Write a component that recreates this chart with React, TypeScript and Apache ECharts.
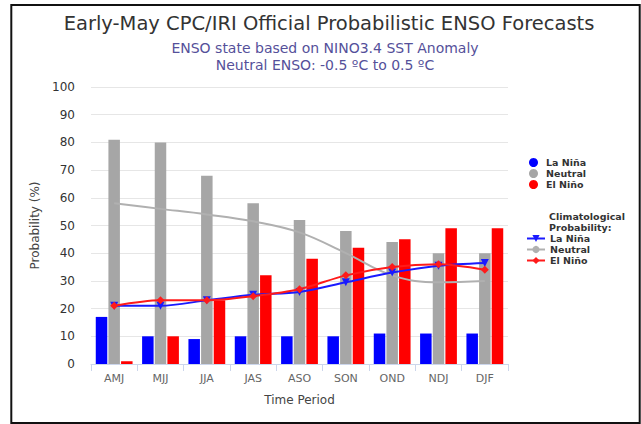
import React, { useEffect, useRef } from "react";
import * as echarts from "echarts";

const categories = ["AMJ", "MJJ", "JJA", "JAS", "ASO", "SON", "OND", "NDJ", "DJF"];
const laNina = [17, 10, 9, 10, 10, 10, 11, 11, 11];
const neutral = [81, 80, 68, 58, 52, 48, 44, 40, 40];
const elNino = [1, 10, 23, 32, 38, 42, 45, 49, 49];
const climLaNina = [21, 21, 23, 25, 26, 29.5, 33, 35.5, 36.5];
const climNeutral = [58, 56, 54, 51.5, 47.5, 40, 32, 29.5, 30];
const climElNino = [21, 23, 23, 24.5, 27, 32, 35, 36, 34];
const yTicks = { min: 0, max: 100, interval: 10 };

const FONT = "DejaVu Sans";

export default function App() {
  const ref = useRef<HTMLDivElement>(null);
  useEffect(() => {
    if (!ref.current) return;
    const chart = echarts.init(ref.current, null, { renderer: "svg" });
    const legendText = { fontFamily: FONT, fontSize: 9.5, fontWeight: "bold", color: "#333", lineHeight: 11 };
    chart.setOption({
      animation: false,
      backgroundColor: "#fff",
      title: [
        {
          text: "Early-May CPC/IRI Official Probabilistic ENSO Forecasts",
          left: 324,
          top: 8,
          textAlign: "center",
          textStyle: { fontFamily: FONT, fontSize: 19.5, fontWeight: "normal", color: "#333" },
        },
        {
          text: "ENSO state based on NINO3.4 SST Anomaly\nNeutral ENSO: -0.5 ºC to 0.5 ºC",
          left: 320,
          top: 34,
          textAlign: "center",
          textStyle: { fontFamily: FONT, fontSize: 14, fontWeight: "normal", color: "#55509a", lineHeight: 17 },
        },
      ],
      graphic: [
        {
          type: "rect",
          silent: true,
          z: -1,
          shape: { x: 11.3, y: 5, width: 628.4, height: 418 },
          style: { fill: "none", stroke: "#111", lineWidth: 2 },
        },
        {
          type: "text",
          left: 549,
          top: 211,
          style: {
            text: "Climatological\nProbability:",
            fontFamily: FONT,
            fontSize: 9.5,
            fontWeight: "bold",
            fill: "#333",
            lineHeight: 11,
          },
        },
      ],
      legend: [
        {
          data: ["La Niña", "Neutral", "El Niño"],
          orient: "vertical",
          left: 529,
          top: 157,
          padding: 0,
          itemWidth: 15,
          itemHeight: 9,
          itemGap: 0,
          icon: "circle",
          textStyle: legendText,
        },
        {
          data: ["Clim La Niña", "Clim Neutral", "Clim El Niño"],
          orient: "vertical",
          left: 526,
          top: 233,
          padding: 0,
          itemWidth: 18,
          itemHeight: 9,
          itemGap: 0,
          formatter: (n: string) => n.replace("Clim ", ""),
          textStyle: legendText,
        },
      ],
      grid: { left: 91, right: 133, top: 87, bottom: 60 },
      xAxis: {
        type: "category",
        data: categories,
        name: "Time Period",
        nameLocation: "middle",
        nameGap: 30,
        nameTextStyle: { fontFamily: FONT, fontSize: 12, color: "#444" },
        axisLine: { lineStyle: { color: "#ccd6eb" } },
        axisTick: { show: true, length: 7, interval: 0, lineStyle: { color: "#ccd6eb" } },
        axisLabel: { fontFamily: FONT, fontSize: 11, color: "#666", margin: 9 },
      },
      yAxis: {
        type: "value",
        min: yTicks.min,
        max: yTicks.max,
        interval: yTicks.interval,
        name: "Probability (%)",
        nameLocation: "middle",
        nameGap: 50,
        nameTextStyle: { fontFamily: FONT, fontSize: 12, color: "#444" },
        axisLine: { show: false },
        axisTick: { show: false },
        axisLabel: { fontFamily: FONT, fontSize: 12, color: "#333", margin: 16 },
        splitLine: { lineStyle: { color: "#e6e6e6" } },
      },
      series: [
        { name: "La Niña", type: "bar", data: laNina, barWidth: 11.5, barGap: "10%", itemStyle: { color: "#0000ff" } },
        { name: "Neutral", type: "bar", data: neutral, barWidth: 11.5, barGap: "10%", itemStyle: { color: "#a6a6a6" } },
        { name: "El Niño", type: "bar", data: elNino, barWidth: 11.5, barGap: "10%", itemStyle: { color: "#ff0000" } },
        {
          name: "Clim La Niña",
          type: "line",
          data: climLaNina,
          smooth: 0.3,
          symbol: "triangle",
          symbolRotate: 180,
          symbolSize: 8,
          lineStyle: { color: "#1a1aff", width: 2 },
          itemStyle: { color: "#1a1aff" },
          z: 5,
        },
        {
          name: "Clim Neutral",
          type: "line",
          data: climNeutral,
          smooth: 0.4,
          symbol: "circle",
          symbolSize: 6,
          showSymbol: false,
          lineStyle: { color: "#b0b0b0", width: 2 },
          itemStyle: { color: "#b0b0b0" },
          z: 4,
        },
        {
          name: "Clim El Niño",
          type: "line",
          data: climElNino,
          smooth: 0.3,
          symbol: "diamond",
          symbolSize: 8,
          lineStyle: { color: "#ff1a1a", width: 2 },
          itemStyle: { color: "#ff1a1a" },
          z: 5,
        },
      ],
    });
    return () => chart.dispose();
  }, []);
  return <div ref={ref} style={{ position: "absolute", left: 0, top: 0, width: 641, height: 424 }} />;
}
